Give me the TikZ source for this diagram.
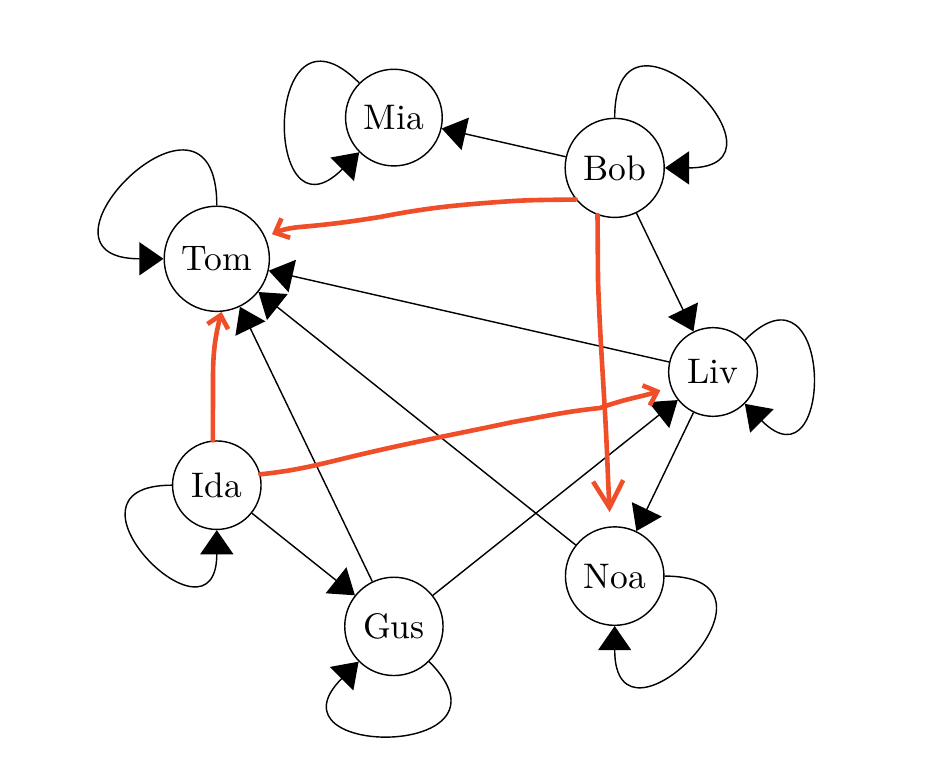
\documentclass[tikz,border=0pt]{standalone}
\usetikzlibrary{arrows.meta}
\definecolor{hl}{RGB}{240,78,40}
\begin{document}
\begin{tikzpicture}[x=0.2817pt,y=0.2817pt,
  vtx/.style={circle,draw,line width=0.4pt},
  blk/.style={-{Triangle[length=6.8pt,width=9.3pt]},line width=0.4pt},
  hle/.style={draw=hl,line width=1.3pt,line cap=round,line join=round,-{Straight Barb[length=3.3pt,width=6pt]}}]
\useasboundingbox (0,0) rectangle (932,778);
% vertices (regular heptagon)
\node[vtx] (Liv) at (713,406) {Liv};
\node[vtx] (Bob) at (614.7,610.1) {Bob};
\node[vtx] (Mia) at (393.9,660.4) {Mia};
\node[vtx] (Tom) at (216.8,519.2) {Tom};
\node[vtx] (Ida) at (216.8,292.8) {Ida};
\node[vtx] (Gus) at (393.9,151.6) {Gus};
\node[vtx] (Noa) at (614.7,201.9) {Noa};
% black edges
\draw[blk] (Bob) -- (Mia);
\draw[blk] (Bob) -- (Liv);
\draw[blk] (Liv) -- (Tom);
\draw[blk] (Liv) -- (Noa);
\draw[blk] (Noa) -- (Tom);
\draw[blk] (Gus) -- (Tom);
\draw[blk] (Gus) -- (Liv);
\draw[blk] (Ida) -- (Gus);
% self loops
\draw[blk] (Tom) to[out=90,in=180,distance=42.5pt] (Tom);
\draw[blk] (Mia) to[out=135,in=225,distance=38.6pt] (Mia);
\draw[blk] (Bob) to[out=90,in=0,distance=39.7pt] (Bob);
\draw[blk] (Liv) to[out=45,in=-45,distance=35.8pt] (Liv);
\draw[blk] (Ida) to[out=180,in=270,distance=35.8pt] (Ida);
\draw[blk] (Gus) to[out=-45,in=-135,distance=38.9pt] (Gus);
\draw[blk] (Noa) to[out=0,in=270,distance=39.7pt] (Noa);
% highlighted edges
\draw[hle,shorten >=2pt] (Bob.219) to[out=181,in=3] (513,577) to[out=184,in=11] (380,561) to[out=189,in=5] (300,551) to[out=185,in=24] (Tom.24);
\draw[hle,-{Straight Barb[length=7.5pt,width=8.5pt]},shorten >=4pt] (Bob.250) -- (598,498) to[out=-88,in=92] (608,300) -- (Noa.95);
\draw[hle] (Ida.95) -- (213,400) to[out=90,in=-104] (Tom.-85);
\draw[hle,shorten >=3pt] (Ida.14) to[out=6,in=193] (367,325) to[out=13,in=192] (513,356) to[out=10,in=186] (600,370) to[out=20,in=200] (Liv.199);
\end{tikzpicture}
\end{document}
